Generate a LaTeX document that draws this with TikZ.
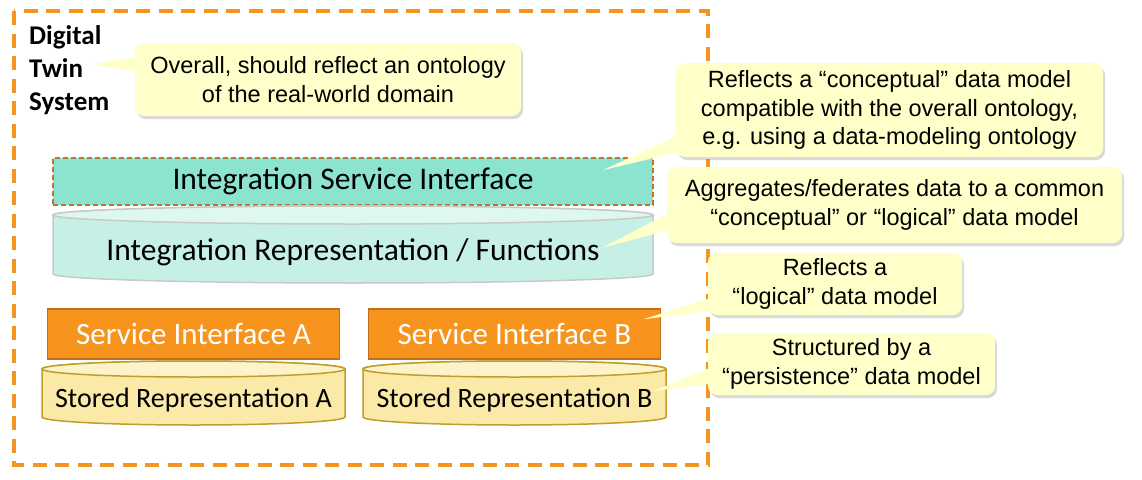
\documentclass[tikz,border=0pt]{standalone}
\usepackage{fontspec}
\setmainfont{Carlito}
\newfontfamily\arialfont{Liberation Sans}
\usetikzlibrary{positioning,calc,shadows}

\definecolor{dtorange}{HTML}{F7941D}
\definecolor{isifill}{HTML}{8CE3D0}
\definecolor{isiline}{HTML}{BF7228}
\definecolor{irepbody}{HTML}{C6F0E6}
\definecolor{ireptop}{HTML}{DEF7F1}
\definecolor{irepline}{HTML}{C9C9C9}
\definecolor{sifill}{HTML}{F7941E}
\definecolor{siline}{HTML}{C0701C}
\definecolor{srepbody}{HTML}{FBE9A7}
\definecolor{sreptop}{HTML}{FCF3CA}
\definecolor{srepline}{HTML}{BF9F2A}
\definecolor{callfill}{HTML}{FFFFC9}

\begin{document}
\begin{tikzpicture}[x=1pt,y=-1pt,
  outerbox/.style={draw=dtorange, line width=3.2pt, dash pattern=on 14pt off 8.5pt},
  titletext/.style={align=left, inner sep=0pt, font=\bfseries\fontsize{27}{33}\selectfont},
  isibox/.style={fill=isifill, draw=isiline, line width=1.6pt, dash pattern=on 5pt off 3pt,
    minimum width=600pt, minimum height=47pt, font=\fontsize{31.5}{36}\selectfont},
  sibox/.style={fill=sifill, draw=siline, line width=1.5pt, minimum width=292pt,
    minimum height=50pt, text=white, font=\fontsize{31}{36}\selectfont},
  bigdrum/.style={fill=irepbody, draw=irepline, line width=1.5pt},
  bigdrumtop/.style={fill=ireptop, draw=irepline, line width=1.5pt},
  drum/.style={fill=srepbody, draw=srepline, line width=1.5pt},
  drumtop/.style={fill=sreptop, draw=srepline, line width=1.5pt},
  drumtext/.style={inner sep=2pt},
  callbox/.style={fill=callfill, rounded corners=9pt, align=center, inner sep=0pt,
    drop shadow={opacity=0.3, shadow xshift=2pt, shadow yshift=-3pt},
    font=\arialfont\fontsize{23.5}{28.5}\selectfont},
  pointer/.style={fill=callfill}]

\useasboundingbox (0,0) rectangle (1142,479);

% System boundary
\draw[outerbox] (14,11) rectangle (708,465);
\node[titletext, anchor=west] (dts) at (29,70) {Digital\\Twin\\System};
\coordinate (twin) at (92,64);

% Integration layer
\node[isibox] (isi) at (353,181.5) {\raisebox{-2pt}{Integration Service Interface}};
\filldraw[bigdrum] (53,215) -- (53,274) arc[start angle=180, end angle=0, x radius=300, y radius=9]
  -- (653,215) arc[start angle=0, end angle=-180, x radius=300, y radius=9] -- cycle;
\filldraw[bigdrumtop] (353,215) ellipse [x radius=300, y radius=9];
\node[drumtext, font=\fontsize{31.5}{36}\selectfont] (irep) at (353,252) {Integration Representation / Functions};

% Services and stores
\node[sibox] (siA) at (193.5,334) {Service Interface A};
\node[sibox] (siB) at (514.5,334) {Service Interface B};

\filldraw[drum] (42,369) -- (42,417) arc[start angle=180, end angle=0, x radius=151.5, y radius=8]
  -- (345,369) arc[start angle=0, end angle=-180, x radius=151.5, y radius=8] -- cycle;
\filldraw[drumtop] (193.5,369) ellipse [x radius=151.5, y radius=8];
\node[drumtext, font=\fontsize{28}{32}\selectfont] (srepA) at (193.5,400) {Stored Representation A};

\filldraw[drum] (363,369) -- (363,417) arc[start angle=180, end angle=0, x radius=151.5, y radius=8]
  -- (666,369) arc[start angle=0, end angle=-180, x radius=151.5, y radius=8] -- cycle;
\filldraw[drumtop] (514.5,369) ellipse [x radius=151.5, y radius=8];
\node[drumtext, font=\fontsize{28}{32}\selectfont] (srepB) at (514.5,400) {Stored Representation B};

% Callouts
\node[callbox, minimum width=386pt, minimum height=73pt] (c1) at (328,79.5)
  {Overall, should reflect an ontology\\of the real-world domain};
\fill[pointer] ($(c1.west)+(2,-22.5)$) -- (twin) -- ($(c1.west)+(2,-7.5)$) -- cycle;

\node[callbox, minimum width=427pt, minimum height=94pt] (c2) at (889.5,110)
  {Reflects a “conceptual” data model\\compatible with the overall ontology,\\e.g. using a data-modeling ontology};
\fill[pointer] ($(c2.west)+(3,25)$) -- ($(isi.north east)+(-51,13)$) -- ($(c2.west)+(3,42)$) -- cycle;

\node[callbox, minimum width=455pt, minimum height=76pt] (c3) at (894.5,205)
  {Aggregates/federates data to a common\\“conceptual” or “logical” data model};
\fill[pointer] ($(c3.west)+(2,8)$) -- ($(irep.east)+(0,-4)$) -- ($(c3.west)+(2,25)$) -- cycle;

\node[callbox, minimum width=254pt, minimum height=62pt] (c4) at (835,284)
  {Reflects a\\“logical” data model};
\fill[pointer] ($(c4.west)+(3,14)$) -- ($(siB.north east)+(-18,11)$) -- ($(c4.west)+(4,27)$) -- cycle;

\node[callbox, minimum width=287pt, minimum height=62pt] (c5) at (851.5,364)
  {Structured by a\\“persistence” data model};
\fill[pointer] ($(c5.west)+(2,4)$) -- ($(srepB.east)+(-1,-9)$) -- ($(c5.west)+(2,20)$) -- cycle;
\end{tikzpicture}
\end{document}
